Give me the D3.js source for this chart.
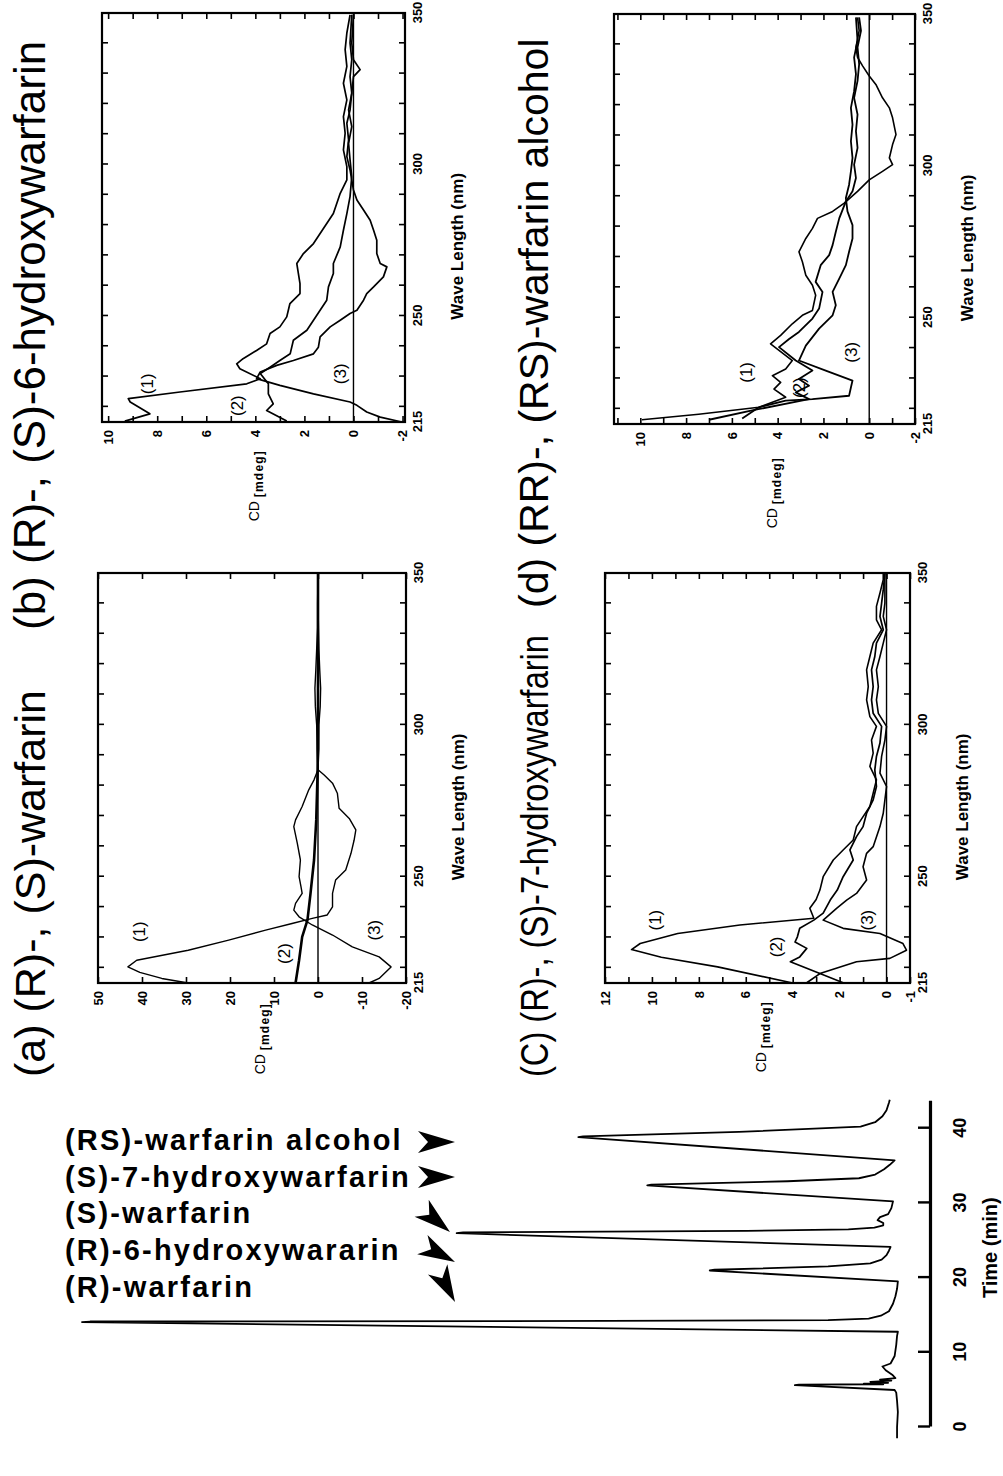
<!DOCTYPE html>
<html>
<head>
<meta charset="utf-8">
<title>Warfarin CD spectra and chromatogram</title>
<script src="https://cdn.jsdelivr.net/npm/d3@7/dist/d3.min.js"></script>
<style>
  body { margin: 0; background: #fff; }
  svg { display: block; }
  text { font-family: "Liberation Sans", Arial, Helvetica, sans-serif; fill: #000; }
</style>
</head>
<body>
<svg id="chart" width="1003" height="1476"></svg>
<script>
// ---------------------------------- DATA

// wavelength axis (nm), shared by the four CD panels
var wlLabels = [215, 250, 300, 350];
var wlTicks = [220, 230, 240, 250, 260, 270, 280, 290, 300, 310, 320, 330, 340];

// CD axis ticks (mdeg)
var aCdTicks = [-20, -10, 0, 10, 20, 30, 40, 50];
var bCdTicks = [-2, -1, 0, 1, 2, 3, 4, 5, 6, 7, 8, 9, 10];
var bCdLabels = [-2, 0, 2, 4, 6, 8, 10];
var cCdTicks = [-1, 0, 1, 2, 3, 4, 5, 6, 7, 8, 9, 10, 11, 12];
var cCdLabels = [-1, 0, 2, 4, 6, 8, 10, 12];
var dCdTicks = [-2, -1, 0, 1, 2, 3, 4, 5, 6, 7, 8, 9, 10, 11];
var dCdLabels = [-2, 0, 2, 4, 6, 8, 10];

// (a) (R)-, (S)-warfarin   [wavelength, CD]
var aCurve1 = [[215,29.5],[216.5,35.5],[218.5,40.5],[220.3,43.2],[222.5,41.2],[225.8,29.5],[229.1,20.3],[232.4,11.9],[234.6,5.9],[236.3,1.3],[237.4,-2.1],[240.1,-3.3],[244.5,-3.3],[248.9,-4.0],[252.2,-6.3],[257.7,-7.5],[262,-8.2],[265.4,-8.6],[269.2,-7.1],[272.5,-4.8],[277.5,-4.4],[280.8,-3.3],[283.5,-1.4],[285.2,0],[292,0.2],[300,0.3],[306,0.6],[312,0.7],[318,0.5],[325,0.3],[332,0.1],[340,0.1],[350,0]];
var aCurve2 = [[215,5.1],[222.5,4.3],[230.2,3.6],[235.7,2.4],[244.5,1.7],[255.5,0.9],[268.7,0.4],[284,0.1],[300,0],[350,0]];
var aCurve3 = [[215,-11.6],[216.5,-13.9],[220.3,-16.6],[223.6,-13.9],[226.9,-7.8],[230.8,-3.3],[234.1,1.3],[236.8,4.3],[239,5.5],[241.2,5.1],[244.5,3.6],[247,3.9],[250,4.3],[255.5,4.0],[261,4.7],[266.5,5.5],[268.7,5.1],[273.1,3.6],[278.6,2.1],[281.9,0.9],[285.2,0],[292,-0.2],[300,-0.2],[306,-0.5],[312,-0.6],[318,-0.4],[325,-0.2],[332,-0.1],[340,0],[350,0]];

// (b) (R)-, (S)-6-hydroxywarfarin
var bCurve1 = [[215.3,9.32],[217.7,8.3],[221.6,9.1],[222.7,9.18],[224.9,7.07],[227.6,4.35],[229.3,3.8],[232.6,4.63],[234.2,4.76],[235.9,4.5],[238.6,3.95],[240.8,3.54],[244.2,3.4],[246.4,3.0],[249.7,2.72],[254.1,2.59],[257.4,2.18],[260.7,2.18],[267.3,2.31],[270.6,2.04],[273.9,1.63],[277.2,1.36],[283.8,0.82],[290.5,0.54],[294.9,0.27],[299.3,0.27],[304.8,0.41],[310.3,0.34],[315.8,0.41],[321.3,0.27],[326.8,0.41],[332.4,0.27],[337.9,0.34],[343.4,0.27],[349.4,0.14]];
var bCurve2 = [[215.3,2.72],[218.8,3.54],[221,3.27],[224.3,3.47],[227.6,3.47],[231,3.8],[233.1,3.4],[235.3,3.0],[237.5,2.58],[242,2.45],[245.3,1.9],[248.6,1.63],[251.9,1.36],[255.2,1.09],[259.6,1.02],[264,0.82],[267.3,0.82],[272.8,0.54],[278.3,0.41],[283.8,0.27],[289.4,0.14],[296,0.07],[301.5,0.14],[307,0.2],[312.5,0.07],[318,0.2],[323.5,0.07],[329,0.14],[334.6,0.07],[340.1,0.14],[349.4,0.07]];
var bCurve3 = [[215,-1.97],[216.6,-1.09],[218.3,-0.54],[220.5,-0.14],[221.6,0.14],[224.3,1.63],[227.1,3.0],[229.3,3.95],[231.5,3.8],[233.7,3.13],[235.3,2.45],[237.5,1.63],[239.7,1.43],[243.1,1.36],[246.4,0.95],[248.6,0.54],[250.8,0.14],[251.9,-0.14],[255.2,-0.41],[257.4,-0.54],[259.6,-0.82],[262.9,-1.22],[266.2,-1.36],[267.3,-1.09],[270.6,-0.95],[275,-0.95],[278.3,-0.82],[281.6,-0.68],[285,-0.41],[288.3,-0.14],[291.6,0],[298.2,0.14],[302.6,0.27],[308.1,0.2],[313.6,0.27],[318,0.14],[323.5,0.07],[329,0],[331.3,-0.27],[334.6,0],[340.1,0.07],[349.4,0]];

// (C) (R)-, (S)-7-hydroxywarfarin
var cCurve1 = [[215.1,4.05],[220.3,7.2],[223.5,9.6],[226,10.87],[228,10.5],[231.3,8.9],[234.1,6.25],[236.3,3.1],[239.6,3.27],[242.5,3.0],[245.6,2.84],[250,2.7],[255.5,2.27],[258.8,1.85],[262.1,1.42],[266.5,1.28],[269.8,1.0],[273.1,0.71],[277.5,0.57],[281.9,0.43],[286.3,0.71],[290.7,0.57],[295,0.64],[299.5,0.43],[302.7,0.71],[308.2,0.85],[312.6,0.78],[318.1,0.85],[322.5,0.71],[326.9,0.57],[331.3,0.21],[334.6,0.43],[339,0.43],[343.4,0.28],[347.8,0.14],[350,0.14]];
var cCurve2 = [[215.1,3.4],[218.1,2.84],[222,4.1],[223.6,3.7],[226.4,3.4],[228.5,3.9],[230.2,3.8],[233,3.7],[235.7,3.1],[238,2.7],[242.3,2.4],[245.6,2.1],[250,1.85],[255.5,1.42],[258.8,1.56],[263.2,1.28],[266.5,1.0],[270.9,0.85],[275.3,0.57],[279.7,0.43],[285.2,0.5],[289.6,0.43],[294,0.28],[299.5,0.21],[303.8,0.57],[308.2,0.64],[312.6,0.57],[318.1,0.64],[322.5,0.5],[326.9,0.43],[331.3,0.14],[335.7,0.28],[340.1,0.21],[344.5,0.14],[350,0.07]];
var cCurve3 = [[215.1,1.85],[218.1,2.84],[222,1.28],[223.1,-0.14],[225.8,-0.85],[228,-0.7],[231.3,0.28],[233,1.85],[235.7,2.7],[239.6,2.13],[242.3,1.7],[244.5,1.28],[248.9,0.85],[253.3,1.0],[257.7,0.85],[259.9,0.57],[266.5,0.28],[270.9,0.14],[279.7,0],[284.1,0.28],[289.6,0.21],[295,0.07],[299.5,0],[303.8,0.35],[308.2,0.43],[312.6,0.35],[318.1,0.43],[322.5,0.28],[326.9,0.14],[331.3,0],[335.7,0.14],[340.1,0.07],[345.6,0.07],[350,0.07]];

// (d) (RR)-, (RS)-warfarin alcohol
var dCurve1 = [[216.4,9.93],[218.2,7.45],[220.5,4.82],[223.8,3.65],[226.5,4.16],[228.7,3.87],[230.9,4.23],[233.1,3.65],[235.9,3.36],[241.4,4.31],[244.2,3.87],[248,3.36],[250.8,2.92],[252.4,2.48],[257.4,2.34],[260.7,2.48],[264,2.77],[268.4,2.92],[271.7,3.07],[276.1,2.77],[279.4,2.48],[282.7,2.26],[285,1.6],[287.7,1.09],[291.6,0.51],[295.4,0],[298.2,-0.58],[300.4,-1.02],[302.6,-0.88],[307,-1.02],[310.3,-1.17],[315.8,-1.02],[319.1,-0.88],[322.4,-0.58],[326.8,-0.29],[329.6,0],[332.9,0.29],[335.7,0.51],[339,0.58],[344.5,0.44],[348.9,0.51]];
var dCurve2 = [[216.4,7.0],[219.7,4.96],[223.2,2.63],[225.4,3.21],[227.6,2.63],[229.8,3.07],[232.6,2.48],[235.9,3.21],[240.3,3.94],[243,3.5],[245.3,3.07],[249.7,2.48],[253,2.19],[258.5,2.04],[261.8,2.34],[267.3,2.12],[270.6,1.75],[273.9,1.6],[278.3,1.46],[282.7,1.31],[288.3,1.02],[291.6,0.73],[296,0.58],[300.4,0.66],[305.9,0.51],[311.4,0.58],[316.9,0.51],[322.4,0.66],[328,0.51],[333.5,0.44],[339,0.51],[344.5,0.36],[348.9,0.44]];
var dCurve3 = [[216.8,5.55],[220.5,4.82],[222.7,3.65],[223.2,2.48],[224.3,0.88],[227,0.8],[229.3,0.73],[232.6,1.9],[235.9,3.07],[240.8,2.77],[246.4,2.19],[250.8,1.6],[254.1,1.46],[258.5,1.6],[262.9,1.31],[267.3,1.02],[271.7,0.88],[276.1,0.73],[280.5,0.73],[285,0.95],[289.4,1.02],[293.8,0.88],[298.2,0.8],[302.6,0.73],[308.1,0.8],[313.6,0.73],[319.1,0.8],[324.6,0.66],[330.2,0.58],[335.7,0.66],[341.2,0.51],[348.9,0.58]];

// chromatogram: [time (min), detector signal (relative)]
var timeTicks = [0, 10, 20, 30, 40];
var chromTrace = [
  [-1.5,-0.5],[0,-0.5],[2,-0.6],[3.5,-0.5],[4.6,-0.4],[4.95,-0.2],
  [5.6,12.1],[5.66,11.6],[5.72,1.2],[5.82,3.6],[5.92,0.6],[6.05,2.8],[6.2,0.2],[6.35,1.6],[6.55,-0.3],[7.0,0.1],[7.6,0.9],[8.1,1.3],[8.5,0.3],[9.5,-0.2],[11,-0.4],[12.2,-0.5],[12.75,-0.6],
  [14.05,100],[14.12,99],[14.2,35],[14.3,8],[14.5,3],[14.9,1.5],[15.5,0.5],[16.5,0],[17.5,-0.3],[18.5,-0.5],[19.5,-0.6],
  [20.95,22.6],[21.05,22.0],[21.5,8],[21.9,2.8],[22.4,1.4],[23.0,0.8],[23.6,0.5],[24.1,0.3],
  [25.95,53.8],[26.05,53],[26.25,18],[26.45,5.5],[26.7,2.3],[27.0,1.2],[27.3,1.2],[27.7,1.9],[28.1,1.6],[28.5,0.6],[29.3,0.2],[30.2,0.0],
  [32.35,30.3],[32.45,29.8],[32.9,13],[33.3,4.2],[33.8,2.2],[34.5,1.1],[35.1,0.4],[35.7,-0.2],
  [38.8,38.8],[38.9,38.2],[39.5,19],[40.2,4],[40.8,2.2],[41.6,1.3],[42.4,0.8],[43.4,0.5],[43.8,0.4]
];

var peakNames = ["(RS)-warfarin alcohol", "(S)-7-hydroxywarfarin", "(S)-warfarin", "(R)-6-hydroxywararin", "(R)-warfarin"];

// ---------------------------------- LAYOUT

var svg = d3.select("#chart");

// every panel is drawn as a normal chart inside a group turned by -90 degrees
var panels = [
  { title: "(a) (R)-, (S)-warfarin", curves: [aCurve1, aCurve2, aCurve3], widths: [1.4, 2.6, 1.4],
    left: 98, right: 406, top: 573, bottom: 983, cd: [-20, 50], cdTicks: aCdTicks, cdLabels: aCdTicks,
    cdLabel: [13, -20], tags: [[231.9, 40.6, "(1)"], [224.7, 7.8, "(2)"], [232.4, -12.8, "(3)"]] },
  { title: "(b) (R)-, (S)-6-hydroxywarfarin", curves: [bCurve1, bCurve2, bCurve3], widths: [1.7, 1.7, 1.7],
    left: 102, right: 405, top: 13, bottom: 422, cd: [-2.1, 10.25], cdTicks: bCdTicks, cdLabels: bCdLabels,
    cdLabel: [4, -28], tags: [[227.6, 8.43, "(1)"], [220.4, 4.76, "(2)"], [230.9, 0.54, "(3)"]] },
  { title: "(C) (R)-, (S)-7-hydroxywarfarin", curves: [cCurve1, cCurve2, cCurve3], widths: [1.6, 1.7, 1.6],
    left: 605, right: 910, top: 573, bottom: 983, cd: [-1, 12], cdTicks: cCdTicks, cdLabels: cCdLabels,
    cdLabel: [5.3, -18], tags: [[235.7, 9.87, "(1)"], [226.9, 4.7, "(2)"], [235.7, 0.85, "(3)"]] },
  { title: "(d) (RR)-, (RS)-warfarin alcohol", curves: [dCurve1, dCurve2, dCurve3], widths: [1.6, 1.8, 1.8],
    left: 614, right: 915, top: 14, bottom: 424, cd: [-2, 11.15], cdTicks: dCdTicks, cdLabels: dCdLabels,
    cdLabel: [4.2, -33], tags: [[232, 5.4, "(1)"], [227, 3.07, "(2)"], [238.6, 0.8, "(3)"]] }
];

function noDomain(s) { s.select(".domain").remove(); }

function drawPanel(p) {
  var W = p.right - p.left;   // CD direction
  var H = p.bottom - p.top;   // wavelength direction
  var g = svg.append("g").attr("transform", "translate(" + p.left + "," + p.bottom + ") rotate(-90)");

  var x = d3.scaleLinear().domain([215, 350]).range([0, H]);
  var y = d3.scaleLinear().domain(p.cd).range([W, 0]);

  // zero line
  g.append("line").attr("x1", 0).attr("x2", H).attr("y1", y(0)).attr("y2", y(0))
    .attr("stroke", "#000").attr("stroke-width", 1.4);

  var line = d3.line().x(function (d) { return x(d[0]); }).y(function (d) { return y(d[1]); });
  p.curves.forEach(function (c, i) {
    g.append("path").attr("d", line(c)).attr("fill", "none").attr("stroke", "#000")
      .attr("stroke-width", p.widths[i]).attr("stroke-linejoin", "round");
  });

  // inward ticks on all four sides
  g.append("g").attr("transform", "translate(0," + W + ")")
    .call(d3.axisBottom(x).tickValues(wlTicks).tickSize(-6).tickFormat("")).call(noDomain);
  g.append("g").call(d3.axisTop(x).tickValues(wlTicks).tickSize(-6).tickFormat("")).call(noDomain);
  g.append("g").call(d3.axisLeft(y).tickValues(p.cdTicks).tickSize(-6).tickFormat("")).call(noDomain);
  g.append("g").attr("transform", "translate(" + H + ",0)")
    .call(d3.axisRight(y).tickValues(p.cdTicks).tickSize(-6).tickFormat("")).call(noDomain);
  g.selectAll(".tick line").attr("stroke-width", 1.6);

  g.append("rect").attr("width", H).attr("height", W)
    .attr("fill", "none").attr("stroke", "#000").attr("stroke-width", 2.2);

  // tick labels
  var xl = g.append("g").attr("transform", "translate(0," + W + ")")
    .call(d3.axisBottom(x).tickValues(wlLabels).tickSize(0).tickPadding(8).tickFormat(String)).call(noDomain);
  var yl = g.append("g")
    .call(d3.axisLeft(y).tickValues(p.cdLabels).tickSize(0).tickPadding(8).tickFormat(String)).call(noDomain);
  [xl, yl].forEach(function (a) {
    a.selectAll("text").attr("font-size", 13).attr("font-weight", "bold");
  });

  g.append("text").attr("x", x(273)).attr("y", W + 58).attr("text-anchor", "middle")
    .attr("font-size", 17).attr("font-weight", "bold").text("Wave Length (nm)");

  var cdText = g.append("text").attr("x", p.cdLabel[1]).attr("y", y(p.cdLabel[0]) + 4)
    .attr("text-anchor", "end");
  cdText.append("tspan").attr("font-size", 14).text("CD ");
  cdText.append("tspan").attr("font-size", 12).attr("font-weight", "bold")
    .attr("letter-spacing", 1.2).attr("dy", 4).text("[mdeg]");

  p.tags.forEach(function (t) {
    g.append("text").attr("x", x(t[0])).attr("y", y(t[1])).attr("dy", "0.35em")
      .attr("text-anchor", "middle").attr("font-size", 17).text(t[2]);
  });
}

panels.forEach(drawPanel);

// panel titles (reading upward): x, y, font size, squeezed length
var titlePos = [[45, 1077, 43, null], [45, 630, 44, null], [548, 1077, 38, 442], [548, 608, 41, null]];
panels.forEach(function (p, i) {
  var t = svg.append("text")
    .attr("transform", "translate(" + titlePos[i][0] + "," + titlePos[i][1] + ") rotate(-90)")
    .attr("font-size", titlePos[i][2]).text(p.title);
  if (titlePos[i][3]) t.attr("textLength", titlePos[i][3]).attr("lengthAdjust", "spacingAndGlyphs");
});

// ---------------------------------- CHROMATOGRAM

var t0y = 1427, pxPerMin = 7.47;
var gc = svg.append("g").attr("transform", "translate(0," + t0y + ") rotate(-90)");
var tx = d3.scaleLinear().domain([0, 43.6]).range([0, 43.6 * pxPerMin]);
var sy = d3.scaleLinear().domain([0, 100]).range([893, 82]);

gc.append("path")
  .attr("d", d3.line().x(function (d) { return tx(d[0]); }).y(function (d) { return sy(d[1]); })(chromTrace))
  .attr("fill", "none").attr("stroke", "#000").attr("stroke-width", 1.8).attr("stroke-linejoin", "round");

var tAxis = gc.append("g").attr("transform", "translate(0,930)")
  .call(d3.axisBottom(tx).tickValues(timeTicks).tickSize(-12).tickSizeOuter(0).tickPadding(23).tickFormat(String));
tAxis.select(".domain").attr("stroke-width", 3.2);
tAxis.selectAll(".tick line").attr("stroke-width", 2.4);
tAxis.selectAll("text").attr("font-size", 18).attr("font-weight", "bold");

gc.append("text").attr("x", tx(24)).attr("y", 997).attr("text-anchor", "middle")
  .attr("font-size", 20).attr("font-weight", "bold").text("Time (min)");

// peak names with arrows
var legendY = [1150, 1187, 1223, 1260, 1297];
peakNames.forEach(function (name, i) {
  svg.append("text").attr("x", 65).attr("y", legendY[i])
    .attr("font-size", 29).attr("font-weight", "bold").attr("letter-spacing", 2.2).text(name);
});

var arrows = [[455, 1142, 0], [455, 1177, 0], [450, 1232, 40], [455, 1262, 28], [455, 1302, 62]];
arrows.forEach(function (a) {
  svg.append("path")
    .attr("d", "M0,0L-37,-11L-27,0L-37,11Z")
    .attr("transform", "translate(" + a[0] + "," + a[1] + ") rotate(" + a[2] + ")")
    .attr("fill", "#000");
});
</script>
</body>
</html>
